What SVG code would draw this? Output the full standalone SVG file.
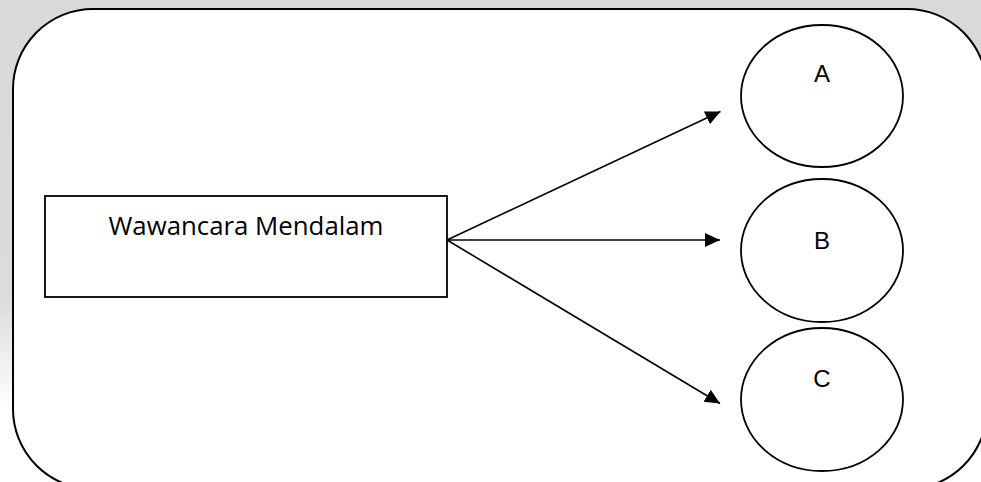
<svg xmlns="http://www.w3.org/2000/svg" width="981" height="482" viewBox="0 0 981 482">
  <defs>
    <linearGradient id="pageShade" x1="0" y1="0" x2="0" y2="482" gradientUnits="userSpaceOnUse">
      <stop offset="0" stop-color="#d9d9d9"/>
      <stop offset="0.62" stop-color="#dcdcdc"/>
      <stop offset="0.85" stop-color="#ffffff"/>
      <stop offset="1" stop-color="#ffffff"/>
    </linearGradient>
    <marker id="arrowHead" markerUnits="userSpaceOnUse" markerWidth="16" markerHeight="15" refX="15" refY="7" orient="auto">
      <path d="M0,0 L15,7 L0,14 Z" fill="#000"/>
    </marker>
    <style>
      .frame { fill: #fff; stroke: #000; stroke-width: 2; }
      .shape { fill: #fff; stroke: #000; stroke-width: 1.8; }
      .link { fill: none; stroke: #000; stroke-width: 1.6; marker-end: url(#arrowHead); }
      .label { font-family: "Open Sans", "Liberation Sans", sans-serif; fill: #000; text-anchor: middle; }
      .node-letter { font-family: "Liberation Sans", Arial, sans-serif; font-size: 24px; fill: #000; text-anchor: middle; }
    </style>
  </defs>

  <!-- page and outer rounded frame -->
  <rect x="0" y="0" width="981" height="482" fill="url(#pageShade)"/>
  <rect class="frame" x="13" y="9" width="974" height="480" rx="80" ry="80"/>

  <g id="wawancara">
    <rect class="shape" x="45" y="196" width="402" height="101"/>
    <text class="label" x="246" y="235" font-size="25.8">Wawancara Mendalam</text>
  </g>

  <g id="node-a">
    <ellipse class="shape" cx="822" cy="96" rx="81" ry="71"/>
    <text class="node-letter" x="822" y="82">A</text>
  </g>

  <g id="node-b">
    <ellipse class="shape" cx="822" cy="250.5" rx="81" ry="71.5"/>
    <text class="node-letter" x="822" y="249">B</text>
  </g>

  <g id="node-c">
    <ellipse class="shape" cx="822" cy="399.5" rx="81" ry="71.5"/>
    <text class="node-letter" x="822" y="387">C</text>
  </g>

  <g id="connectors">
    <line class="link" x1="447" y1="240" x2="720.5" y2="111.5"/>
    <line class="link" x1="447" y1="240" x2="720" y2="240"/>
    <line class="link" x1="447" y1="240" x2="720" y2="403.5"/>
  </g>
</svg>
